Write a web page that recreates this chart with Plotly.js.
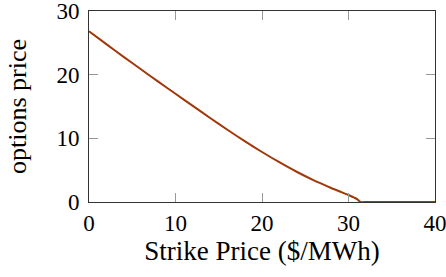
<!DOCTYPE html>
<html>
<head>
<meta charset="utf-8">
<script src="https://cdn.plot.ly/plotly-3.0.1.min.js"></script>
<style>html,body{margin:0;padding:0;background:#fff;}#chart{width:446px;height:277px;}</style>
</head>
<body>
<div id="chart"></div>
<script>
const strikePrice = [0, 2, 4, 6, 8, 10, 12, 14, 16, 18, 20, 22, 24, 26, 27, 28, 29, 30, 31, 31.4, 32, 34, 36, 38, 40];
const optionPrice = [26.8, 24.8, 22.8, 20.85, 18.9, 17.0, 15.1, 13.2, 11.35, 9.55, 7.85, 6.25, 4.75, 3.4, 2.8, 2.2, 1.65, 1.1, 0.45, 0, 0, 0, 0, 0, 0];
const xTicks = [0, 10, 20, 30, 40];
const yTicks = [0, 10, 20, 30];
const xTitle = 'Strike Price ($/MWh)';
const yTitle = 'options price';

const tickFont = {family: 'Liberation Serif', size: 23, color: '#000'};
const titleFont = {family: 'Liberation Serif', size: 26, color: '#000'};
const axisCommon = {
  showgrid: false, zeroline: false, showline: true, linecolor: '#333', linewidth: 1,
  mirror: 'ticks', ticks: 'inside', tickcolor: '#999', ticklen: 9, tickwidth: 1,
  tickfont: tickFont, ticklabeloverflow: 'allow', automargin: false
};
Plotly.newPlot('chart', [{
  x: strikePrice, y: optionPrice, type: 'scatter', mode: 'lines',
  line: {color: '#a0380a', width: 2, shape: 'spline', smoothing: 0.6}
}], {
  width: 446, height: 277,
  margin: {l: 89, r: 11, t: 11, b: 75},
  paper_bgcolor: '#fff', plot_bgcolor: '#fff',
  showlegend: false,
  font: tickFont,
  xaxis: Object.assign({}, axisCommon, {range: [0, 40], tickvals: xTicks, ticktext: xTicks.map(String),
    title: {text: xTitle, font: {family: 'Liberation Serif', size: 27, color: '#000'}, standoff: 3}}),
  yaxis: Object.assign({}, axisCommon, {range: [0, 30], tickvals: yTicks, ticktext: yTicks.map(String),
    ticklabelstandoff: 4,
    title: {text: yTitle, font: titleFont, standoff: 22}})
}, {displayModeBar: false, staticPlot: true});
</script>
</body>
</html>
